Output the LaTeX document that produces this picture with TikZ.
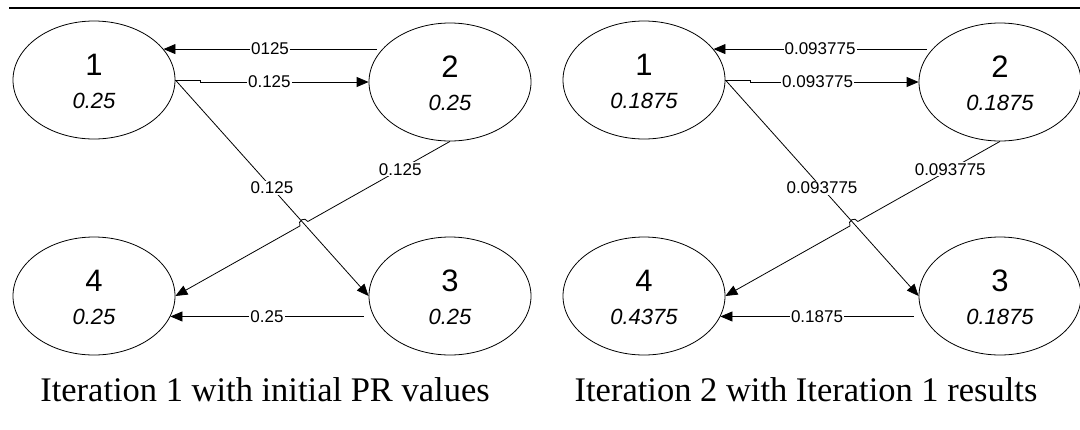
\documentclass[tikz,border=0pt]{standalone}
\usepackage{fontspec}
\setmainfont{Liberation Serif}
\newfontfamily\arialfont{Liberation Sans}
\usetikzlibrary{shapes.geometric,arrows.meta,calc}
\begin{document}
\begin{tikzpicture}[x=1pt,y=-1pt,
  pr/.style={ellipse,draw,line width=0.8pt,minimum width=162pt,minimum height=118pt,inner sep=0pt},
  idtxt/.style={anchor=base,inner sep=0pt,font=\arialfont\fontsize{31}{31}\selectfont},
  valtxt/.style={anchor=base,inner sep=0pt,font=\arialfont\itshape\fontsize{22}{22}\selectfont},
  link/.style={line width=0.8pt,-{Triangle[length=12pt,width=10pt]}},
  wt/.style={fill=white,inner sep=1pt,font=\arialfont\fontsize{17}{17}\selectfont},
  caption/.style={anchor=base,inner sep=0pt,font=\fontsize{34.5}{34.5}\selectfont}]
\useasboundingbox (0,0) rectangle (1080,429);

% top rule
\coordinate (ruleL) at (9,7.5);
\coordinate (ruleR) at (1080,7.5);
\draw[line width=2pt] (ruleL) -- (ruleR);

% ---------- iteration 1 ----------
\node[pr] (a1) at (94,80) {};
\node[pr] (a2) at (450,82) {};
\node[pr] (a3) at (450,296) {};
\node[pr] (a4) at (94,296) {};
\node[idtxt] (a1n) at ($(a1.center)+(0,-5)$) {1};
\node[valtxt] (a1v) at ($(a1.center)+(0,28)$) {0.25};
\node[idtxt] (a2n) at ($(a2.center)+(0,-5)$) {2};
\node[valtxt] (a2v) at ($(a2.center)+(0,28)$) {0.25};
\node[idtxt] (a3n) at ($(a3.center)+(0,-5)$) {3};
\node[valtxt] (a3v) at ($(a3.center)+(0,28)$) {0.25};
\node[idtxt] (a4n) at ($(a4.center)+(0,-5)$) {4};
\node[valtxt] (a4v) at ($(a4.center)+(0,28)$) {0.25};

\draw[link] ($(a1.24 -| a2.west)+(8,0)$) -- node[wt]{0125} (a1.24);
\draw[link] (a1.east) -- ++(25,0) -- ++(0,2) -- node[wt,pos=0.41]{0.125} (a2.west);
\draw[link] (a1.east) -- node[wt]{0.125} (a3.west);
\coordinate (ax) at (intersection of a1.east--a3.west and a2.south--a4.east);
\coordinate (axa) at ($(ax)!4.5pt!(a2.south)$);
\coordinate (axb) at ($(ax)!4.5pt!(a4.east)$);
\draw[link] (a2.south) -- node[wt,pos=0.35]{0.125} (axa)
  .. controls ($(axa)!6pt!-90:(ax)$) and ($(axb)!6pt!90:(ax)$) .. (axb) -- (a4.east);
\draw[link] ($(a4.-15.5 -| a3.west)+(-5,0)$) -- node[wt]{0.25} (a4.-15.5);

\node[caption] (c1) at (265,401) {Iteration 1 with initial PR values};

% ---------- iteration 2 ----------
\begin{scope}[xshift=550pt]
\node[pr] (b1) at (94,80) {};
\node[pr] (b2) at (450,82) {};
\node[pr] (b3) at (450,296) {};
\node[pr] (b4) at (94,296) {};
\node[idtxt] (b1n) at ($(b1.center)+(0,-5)$) {1};
\node[valtxt] (b1v) at ($(b1.center)+(0,28)$) {0.1875};
\node[idtxt] (b2n) at ($(b2.center)+(0,-5)$) {2};
\node[valtxt] (b2v) at ($(b2.center)+(0,28)$) {0.1875};
\node[idtxt] (b3n) at ($(b3.center)+(0,-5)$) {3};
\node[valtxt] (b3v) at ($(b3.center)+(0,28)$) {0.1875};
\node[idtxt] (b4n) at ($(b4.center)+(0,-5)$) {4};
\node[valtxt] (b4v) at ($(b4.center)+(0,28)$) {0.4375};

\draw[link] ($(b1.24 -| b2.west)+(8,0)$) -- node[wt]{0.093775} (b1.24);
\draw[link] (b1.east) -- ++(25,0) -- ++(0,2) -- node[wt,pos=0.4]{0.093775} (b2.west);
\draw[link] (b1.east) -- node[wt]{0.093775} (b3.west);
\coordinate (bx) at (intersection of b1.east--b3.west and b2.south--b4.east);
\coordinate (bxa) at ($(bx)!4.5pt!(b2.south)$);
\coordinate (bxb) at ($(bx)!4.5pt!(b4.east)$);
\draw[link] (b2.south) -- node[wt,pos=0.35]{0.093775} (bxa)
  .. controls ($(bxa)!6pt!-90:(bx)$) and ($(bxb)!6pt!90:(bx)$) .. (bxb) -- (b4.east);
\draw[link] ($(b4.-15.5 -| b3.west)+(-5,0)$) -- node[wt]{0.1875} (b4.-15.5);

\node[caption] (c2) at (256,401) {Iteration 2 with Iteration 1 results};
\end{scope}
\end{tikzpicture}
\end{document}
